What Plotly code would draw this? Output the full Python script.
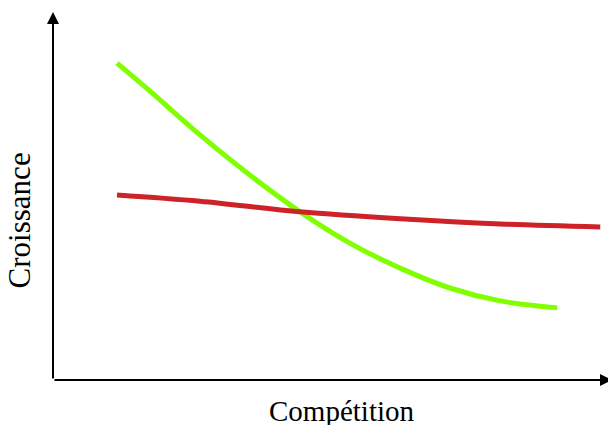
import plotly.graph_objects as go

green_x = [1.145, 1.735, 2.63, 3.52, 4.42, 5.31, 6.21, 7.10, 8.00, 9.02]
green_y = [8.61, 7.85, 6.66, 5.57, 4.57, 3.72, 3.04, 2.50, 2.15, 1.96]
red_x = [1.145, 2.63, 4.42, 6.21, 8.00, 9.79]
red_y = [5.03, 4.86, 4.57, 4.38, 4.24, 4.16]

x_label = "Compétition"
y_label = "Croissance"

fig = go.Figure()
fig.add_trace(go.Scatter(x=green_x, y=green_y, mode="lines",
                         line=dict(color="#80ff00", width=5, shape="spline"),
                         hoverinfo="skip"))
fig.add_trace(go.Scatter(x=red_x, y=red_y, mode="lines",
                         line=dict(color="#cc2228", width=5, shape="spline"),
                         hoverinfo="skip"))

fig.update_layout(
    width=608, height=417,
    margin=dict(l=45, r=4, t=4, b=45),
    paper_bgcolor="white", plot_bgcolor="white",
    showlegend=False,
    xaxis=dict(range=[0, 10], visible=False, fixedrange=True),
    yaxis=dict(range=[0, 10], visible=False, fixedrange=True),
)
# axes with arrowheads
fig.add_annotation(x=1, y=0, ax=0, ay=0, xref="x domain", yref="y domain",
                   axref="x domain", ayref="y domain", showarrow=True, arrowhead=2,
                   arrowsize=1.2, arrowwidth=2, arrowcolor="black", text="")
fig.add_annotation(x=0, y=1, ax=0, ay=0, xref="x domain", yref="y domain",
                   axref="x domain", ayref="y domain", showarrow=True, arrowhead=2,
                   arrowsize=1.2, arrowwidth=2, arrowcolor="black", text="")
fig.add_annotation(x=0.517, y=-0.084, xref="paper", yref="paper", text=x_label, showarrow=False,
                   font=dict(family="Liberation Serif", size=29, color="black"),
                   xanchor="center", yanchor="middle")
fig.add_annotation(x=-0.06, y=0.435, xref="paper", yref="paper", text=y_label, showarrow=False,
                   font=dict(family="Liberation Serif", size=31, color="black"),
                   textangle=-90, xanchor="center", yanchor="middle")

fig.write_html("out.html")
